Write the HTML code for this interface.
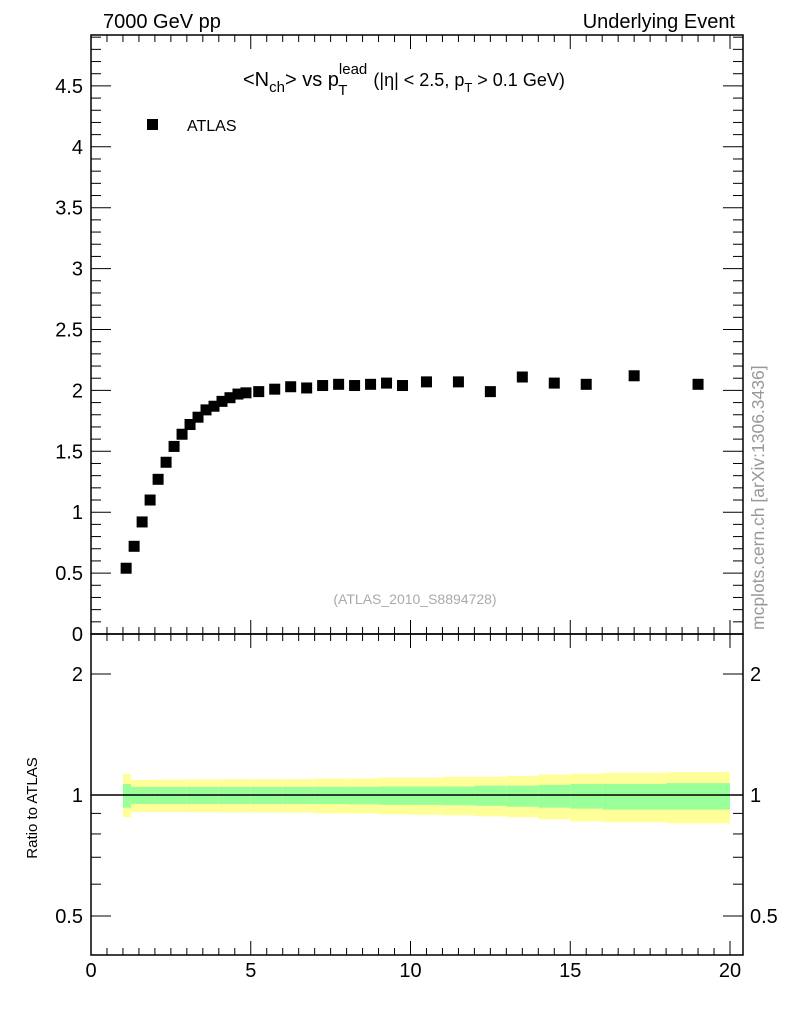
<!DOCTYPE html>
<html><head><meta charset="utf-8"><style>
body{margin:0;background:#fff;font-family:"Liberation Sans",sans-serif}
</style></head><body>
<svg id="c" width="786" height="1024" xmlns="http://www.w3.org/2000/svg" font-family="Liberation Sans, sans-serif">
<text x="103" y="28" font-size="20">7000 GeV pp</text>
<text x="735" y="28" font-size="20" text-anchor="end">Underlying Event</text>
<text x="243" y="86" font-size="20">&lt;N<tspan font-size="15" dy="6">ch</tspan><tspan dy="-6">&gt; vs p</tspan><tspan font-size="15" dy="-12">lead</tspan><tspan font-size="15" dx="-29" dy="21">T</tspan><tspan font-size="18" dx="26" dy="-9">(|η| &lt; 2.5, p</tspan><tspan font-size="13" dy="6">T</tspan><tspan font-size="18" dy="-6"> &gt; 0.1 GeV)</tspan></text>
<rect x="147" y="119" width="11" height="11" fill="#000"/>
<text x="187" y="131" font-size="16">ATLAS</text>
<text x="415" y="604" font-size="14" fill="#aaa" text-anchor="middle">(ATLAS_2010_S8894728)</text>
<text transform="translate(764,630) rotate(-90)" font-size="17.5" fill="#999">mcplots.cern.ch [arXiv:1306.3436]</text>
<text transform="translate(37,808) rotate(-90)" font-size="15" text-anchor="middle">Ratio to ATLAS</text>
<g id="g"></g>
</svg>
<script>
const xs=[1.1,1.35,1.6,1.85,2.1,2.35,2.6,2.85,3.1,3.35,3.6,3.85,4.1,4.35,4.6,4.85,5.25,5.75,6.25,6.75,7.25,7.75,8.25,8.75,9.25,9.75,10.5,11.5,12.5,13.5,14.5,15.5,17,19];
const ys=[0.54,0.72,0.92,1.10,1.27,1.41,1.54,1.64,1.72,1.78,1.84,1.87,1.91,1.94,1.97,1.98,1.99,2.01,2.03,2.02,2.04,2.05,2.04,2.05,2.06,2.04,2.07,2.07,1.99,2.11,2.06,2.05,2.12,2.05];
const binEdges=[1,1.25,2,3,4,5,6,7,8,9,10,11,12,13,14,15,16,18,20];
const greenUp=[1.065,1.047,1.047,1.047,1.047,1.047,1.047,1.048,1.048,1.05,1.05,1.05,1.055,1.055,1.06,1.065,1.065,1.07];
const greenDn=[0.93,0.95,0.95,0.95,0.95,0.95,0.95,0.95,0.948,0.945,0.945,0.943,0.94,0.935,0.93,0.925,0.92,0.92];
const yelUp=[1.127,1.09,1.092,1.094,1.095,1.095,1.095,1.1,1.1,1.105,1.105,1.11,1.11,1.115,1.125,1.13,1.135,1.14];
const yelDn=[0.88,0.907,0.907,0.906,0.905,0.905,0.904,0.9,0.9,0.895,0.893,0.89,0.885,0.88,0.87,0.86,0.855,0.85];
const NS='http://www.w3.org/2000/svg',g=document.getElementById('g');
const L=91,R=743,T=35,M=634,B=955;
const X=v=>L+v*31.95;
const Y=v=>M-v*121.8;
const YR=v=>795-121*Math.log2(v);
function el(t,a){const e=document.createElementNS(NS,t);for(const k in a)e.setAttribute(k,a[k]);g.appendChild(e);return e;}
for(let i=0;i<binEdges.length-1;i++){
 const x0=X(binEdges[i]),x1=X(binEdges[i+1]);
 let r=el('rect',{x:x0,y:YR(yelUp[i]),width:x1-x0,height:YR(yelDn[i])-YR(yelUp[i]),fill:'#ffff99'});
 
 
 r=el('rect',{x:x0,y:YR(greenUp[i]),width:x1-x0,height:YR(greenDn[i])-YR(greenUp[i]),fill:'#99ff99'});
 
 
}
let ln=el('line',{x1:L,x2:R,y1:YR(1),y2:YR(1),stroke:'#000','stroke-width':1.5});


let f=el('rect',{x:L,y:T,width:R-L,height:M-T,fill:'none',stroke:'#000','stroke-width':1.5});


f=el('rect',{x:L,y:M,width:R-L,height:B-M,fill:'none',stroke:'#000','stroke-width':1.5});


for(let v=0;v<=20.4;v+=0.5){
 const maj=Math.abs(v%5)<1e-6, len=maj?14:7,x=X(v);
 [[T,1],[M,-1],[M,1],[B,-1]].forEach(([y0,d])=>el('line',{x1:x,x2:x,y1:y0,y2:y0+d*len,stroke:'#000'}));
 if(maj){const t=el('text',{x:x,y:977,'font-size':20,'text-anchor':'middle'});t.textContent=v;
 
 }
}
for(let i=0;i<=49;i++){const v=i*0.1,y=Y(v);if(y<T)break;const maj=i%5==0,len=maj?20:10;
 el('line',{x1:L,x2:L+len,y1:y,y2:y,stroke:'#000'});el('line',{x1:R,x2:R-len,y1:y,y2:y,stroke:'#000'});
 if(maj){const t=el('text',{x:83,y:y+7,'font-size':20,'text-anchor':'end'});t.textContent=(i/10).toString();
 
 }}
[0.4,0.5,0.6,0.7,0.8,0.9,1,2].forEach(v=>{const y=YR(v);if(y>B)return;const maj=(v==0.5||v==1||v==2),len=maj?20:10;
 el('line',{x1:L,x2:L+len,y1:y,y2:y,stroke:'#000'});el('line',{x1:R,x2:R-len,y1:y,y2:y,stroke:'#000'});
 if(maj){[[83,'end'],[750,'start']].forEach(([x,a])=>{const t=el('text',{x:x,y:y+7,'font-size':20,'text-anchor':a});t.textContent=v;
 
 });}});
xs.forEach((v,i)=>{const p=el('rect',{x:X(v)-5.5,y:Y(ys[i])-5.5,width:11,height:11,fill:'#000'});
 
 });
</script>
</body></html>
